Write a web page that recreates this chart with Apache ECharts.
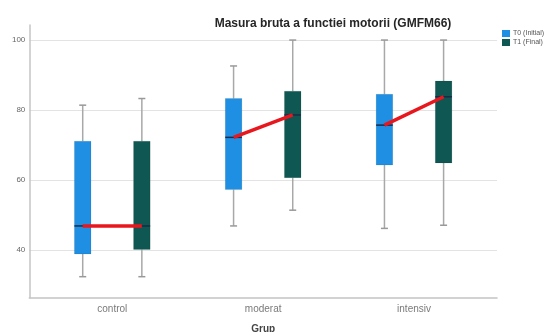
<!DOCTYPE html>
<html>
<head>
<meta charset="utf-8">
<script src="https://cdn.jsdelivr.net/npm/echarts@6/dist/echarts.min.js"></script>
<style>html,body{margin:0;padding:0;background:#fff}#c{width:554px;height:332px}</style>
</head>
<body>
<div id="c"></div>
<script>
const categories = ['control', 'moderat', 'intensiv'];
const yTicks = [40, 60, 80, 100];
// T0 (Initial)
const t0Min = [32.4, 46.9, 46.2];
const t0Q1 = [38.9, 57.3, 64.3];
const t0Median = [46.9, 72.2, 75.7];
const t0Q3 = [71.1, 83.3, 84.5];
const t0Max = [81.4, 92.6, 100];
// T1 (Final)
const t1Min = [32.4, 51.4, 47.1];
const t1Q1 = [40.2, 60.7, 64.9];
const t1Median = [46.9, 78.6, 83.8];
const t1Q3 = [71.1, 85.4, 88.3];
const t1Max = [83.3, 100, 100];

const OFFSET = 0.196, HALF = 0.055;
const colT0 = '#1f8fe3', colT1 = '#0e5752';

function boxData(mn, q1, md, q3, mx) {
  return categories.map((c, i) => [i, mn[i], q1[i], md[i], q3[i], mx[i]]);
}
function makeBox(offset, color) {
  return function (params, api) {
    const i = api.value(0);
    const x = i + offset;
    const pMin = api.coord([x, api.value(1)]);
    const pQ1 = api.coord([x, api.value(2)]);
    const pMd = api.coord([x, api.value(3)]);
    const pQ3 = api.coord([x, api.value(4)]);
    const pMax = api.coord([x, api.value(5)]);
    const left = api.coord([x - HALF, 0])[0];
    const right = api.coord([x + HALF, 0])[0];
    const cx = pMin[0];
    const ws = {stroke: '#a8a8a8', lineWidth: 1.5};
    return {
      type: 'group',
      children: [
        {type: 'line', shape: {x1: cx, y1: pMin[1], x2: cx, y2: pQ1[1]}, style: ws},
        {type: 'line', shape: {x1: cx, y1: pQ3[1], x2: cx, y2: pMax[1]}, style: ws},
        {type: 'line', shape: {x1: cx - 3.5, y1: pMin[1], x2: cx + 3.5, y2: pMin[1]}, style: {stroke: '#999', lineWidth: 1.5}},
        {type: 'line', shape: {x1: cx - 3.5, y1: pMax[1], x2: cx + 3.5, y2: pMax[1]}, style: {stroke: '#999', lineWidth: 1.5}},
        {type: 'rect', shape: {x: left, y: pQ3[1], width: right - left, height: pQ1[1] - pQ3[1]}, style: {fill: color, stroke: 'rgba(0,0,0,0.15)', lineWidth: 0.6}},
        {type: 'line', shape: {x1: left, y1: pMd[1], x2: right, y2: pMd[1]}, style: {stroke: '#1b2a48', lineWidth: 1.5}}
      ]
    };
  };
}

const chart = echarts.init(document.getElementById('c'), null, {renderer: 'canvas'});
chart.setOption({
  animation: false,
  backgroundColor: '#fff',
  title: {
    text: 'Masura bruta a functiei motorii (GMFM66)',
    left: 328, top: 13, textAlign: 'center',
    textStyle: {fontFamily: 'Liberation Sans', fontWeight: 'bold', fontSize: 12, color: '#262626'}
  },
  legend: {
    data: ['T0 (Initial)', 'T1 (Final)'],
    orient: 'vertical', left: 497, top: 25,
    itemWidth: 8, itemHeight: 7, itemGap: 2, icon: 'rect',
    textStyle: {fontFamily: 'Liberation Sans', fontSize: 7, color: '#555', padding: [0, 0, 0, -2]}
  },
  grid: {left: 29.3, right: 57, top: 25, bottom: 34.3, containLabel: false, outerBoundsMode: 'none'},
  xAxis: {
    type: 'value', min: -0.55, max: 2.55,
    axisLine: {show: true, onZero: false, lineStyle: {color: '#c4c4c4', width: 1.5}},
    axisTick: {show: false},
    splitLine: {show: false},
    axisLabel: {
      customValues: [0, 1, 2],
      formatter: v => categories[Math.round(v)] || '',
      fontFamily: 'Liberation Sans', fontSize: 10, color: '#7a7a7a', margin: 7
    },
    name: 'Grup', nameLocation: 'middle', nameGap: 27,
    nameTextStyle: {fontFamily: 'Liberation Sans', fontSize: 10, fontWeight: 'bold', color: '#444'}
  },
  yAxis: {
    type: 'value', min: 26.4, max: 104.3,
    axisLine: {show: true, onZero: false, lineStyle: {color: '#c4c4c4', width: 1.5}},
    axisTick: {show: false, customValues: yTicks},
    splitLine: {show: true, lineStyle: {color: '#e3e3e3', width: 1}},
    axisLabel: {
      customValues: yTicks,
      fontFamily: 'Liberation Sans', fontSize: 8, color: '#666', margin: 4
    }
  },
  series: [
    {
      name: 'T0 (Initial)', type: 'custom', itemStyle: {color: colT0},
      renderItem: makeBox(-OFFSET, colT0),
      data: boxData(t0Min, t0Q1, t0Median, t0Q3, t0Max), z: 2
    },
    {
      name: 'T1 (Final)', type: 'custom', itemStyle: {color: colT1},
      renderItem: makeBox(OFFSET, colT1),
      data: boxData(t1Min, t1Q1, t1Median, t1Q3, t1Max), z: 2
    },
    {
      name: 'median link', type: 'custom', z: 5,
      renderItem: function (params, api) {
        const i = api.value(0);
        const a = api.coord([i - OFFSET, api.value(1)]);
        const b = api.coord([i + OFFSET, api.value(2)]);
        return {type: 'line', shape: {x1: a[0], y1: a[1], x2: b[0], y2: b[1]},
          style: {stroke: '#e8161d', lineWidth: 3.5}};
      },
      data: categories.map((c, i) => [i, t0Median[i], t1Median[i]])
    }
  ]
});
</script>
</body>
</html>
